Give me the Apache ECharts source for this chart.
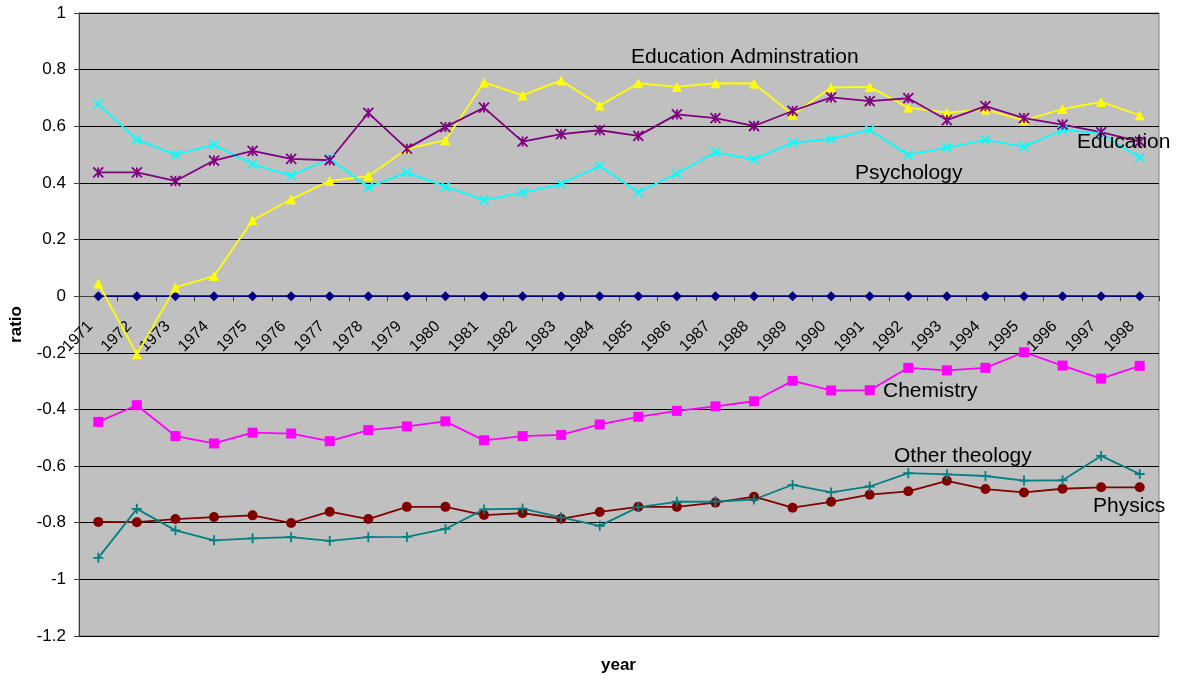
<!DOCTYPE html>
<html>
<head>
<meta charset="utf-8">
<script src="https://cdn.jsdelivr.net/npm/echarts@6/dist/echarts.min.js"></script>
<style>
  html, body { margin: 0; padding: 0; background: #ffffff; }
  #chart { width: 1186px; height: 681px; }
</style>
</head>
<body>
<div id="chart"></div>
<script>
// Categories: academic years
const years = ['1971','1972','1973','1974','1975','1976','1977','1978','1979','1980',
               '1981','1982','1983','1984','1985','1986','1987','1988','1989','1990',
               '1991','1992','1993','1994','1995','1996','1997','1998'];

// Ratio per field and year
const reference = [0,0,0,0,0,0,0,0,0,0,0,0,0,0,0,0,0,0,0,0,0,0,0,0,0,0,0,0];
const chemistry = [-0.444,-0.385,-0.494,-0.520,-0.482,-0.485,-0.512,-0.473,-0.460,-0.442,
                   -0.509,-0.494,-0.490,-0.453,-0.426,-0.405,-0.389,-0.371,-0.299,-0.333,
                   -0.332,-0.253,-0.262,-0.253,-0.198,-0.245,-0.291,-0.246];
const eduAdmin  = [0.045,-0.205,0.031,0.071,0.268,0.342,0.407,0.424,0.520,0.551,
                   0.755,0.709,0.762,0.673,0.752,0.739,0.752,0.751,0.641,0.737,
                   0.739,0.666,0.648,0.659,0.621,0.661,0.686,0.639];
const psychology= [0.678,0.553,0.500,0.535,0.466,0.426,0.486,0.384,0.437,0.387,
                   0.339,0.366,0.396,0.460,0.367,0.433,0.508,0.483,0.542,0.555,
                   0.587,0.499,0.525,0.552,0.528,0.587,0.574,0.490];
const education = [0.437,0.437,0.407,0.479,0.513,0.485,0.480,0.647,0.521,0.597,
                   0.666,0.546,0.572,0.586,0.566,0.642,0.629,0.601,0.654,0.702,
                   0.689,0.699,0.622,0.671,0.629,0.606,0.579,0.546];
const physics   = [-0.797,-0.798,-0.787,-0.780,-0.774,-0.801,-0.761,-0.787,-0.744,-0.744,
                   -0.773,-0.766,-0.786,-0.762,-0.744,-0.744,-0.729,-0.708,-0.747,-0.726,
                   -0.701,-0.689,-0.652,-0.681,-0.693,-0.680,-0.675,-0.675];
const otherTheology = [-0.924,-0.751,-0.827,-0.862,-0.855,-0.851,-0.864,-0.851,-0.850,-0.822,
                   -0.753,-0.750,-0.781,-0.811,-0.745,-0.726,-0.725,-0.718,-0.666,-0.693,
                   -0.672,-0.625,-0.629,-0.635,-0.651,-0.650,-0.564,-0.628];

// Y axis range
const yMin = -1.2, yMax = 1, yStep = 0.2;

// Plot box in pixels
const GRID_TOP = 13, GRID_BOTTOM = 45, CHART_H = 681;
const plotH = CHART_H - GRID_TOP - GRID_BOTTOM;
// distance from the bottom edge of the plot up to the zero line
const zeroOffset = plotH * (0 - yMin) / (yMax - yMin);

const FONT = '"Liberation Sans", Arial, sans-serif';

const X_SYMBOL = 'path://M0,0L10,10M10,0L0,10';
const STAR_SYMBOL = 'path://M5,0L5,10M0,0L10,10M10,0L0,10';
const PLUS_SYMBOL = 'path://M5,0L5,10M0,5L10,5';

function filledSeries(name, data, color, symbol, size) {
  return {
    name, type: 'line', data,
    symbol, symbolSize: size,
    lineStyle: { color, width: 1.8 },
    itemStyle: { color },
    emphasis: { disabled: true }
  };
}
function strokedSeries(name, data, color, symbol, size) {
  return {
    name, type: 'line', data,
    symbol, symbolSize: size,
    lineStyle: { color, width: 1.8 },
    itemStyle: { color: 'transparent', borderColor: color, borderWidth: 1.8 },
    emphasis: { disabled: true }
  };
}

const chart = echarts.init(document.getElementById('chart'), null, { renderer: 'canvas' });

function label(text, x, y) {
  return { type: 'text', x, y, z: 100,
    style: { text, font: '21px ' + FONT, fill: '#000', verticalAlign: 'middle' } };
}

chart.setOption({
  animation: false,
  backgroundColor: '#ffffff',
  grid: {
    left: 79, top: GRID_TOP, right: 27, bottom: GRID_BOTTOM,
    show: true, backgroundColor: '#C0C0C0', borderColor: '#808080', borderWidth: 1
  },
  xAxis: {
    type: 'category',
    data: years,
    boundaryGap: true,
    position: 'bottom',
    offset: -zeroOffset,
    axisLine: { onZero: false, lineStyle: { color: '#404040', width: 1 } },
    axisTick: { show: true, length: 5, lineStyle: { color: '#404040' } },
    axisLabel: {
      rotate: 45, margin: 20, padding: [0, 11, 0, 0],
      color: '#000', fontSize: 16, fontFamily: FONT, interval: 0
    },
    splitLine: { show: false }
  },
  yAxis: {
    type: 'value',
    min: yMin, max: yMax, interval: yStep,
    name: 'ratio', nameLocation: 'middle', nameGap: 54, nameRotate: 90,
    nameTextStyle: { fontFamily: FONT, fontSize: 17, fontWeight: 'bold', color: '#000' },
    axisLine: { show: true, lineStyle: { color: '#404040', width: 1 } },
    axisTick: { show: true, length: 5, lineStyle: { color: '#404040' } },
    axisLabel: { color: '#000', fontSize: 17, fontFamily: FONT, margin: 13 },
    splitLine: { show: true, lineStyle: { color: '#000000', width: 1 } }
  },
  graphic: [
    { type: 'text', left: 601, top: 657, style: { text: 'year', font: 'bold 17px ' + FONT, fill: '#000' } },
    label('Education Adminstration', 631, 57),
    label('Psychology', 855, 173),
    label('Education', 1077, 142),
    label('Chemistry', 883, 391),
    label('Other theology', 894, 456),
    label('Physics', 1093, 506)
  ],
  series: [
    filledSeries('Reference', reference, '#000080', 'diamond', 10),
    filledSeries('Chemistry', chemistry, '#FF00FF', 'rect', 10),
    filledSeries('Education Adminstration', eduAdmin, '#FFFF00', 'triangle', 10),
    strokedSeries('Psychology', psychology, '#00FFFF', X_SYMBOL, 9),
    strokedSeries('Education', education, '#800080', STAR_SYMBOL, 10),
    filledSeries('Physics', physics, '#800000', 'circle', 10),
    strokedSeries('Other theology', otherTheology, '#008080', PLUS_SYMBOL, 10)
  ]
});
</script>
</body>
</html>
